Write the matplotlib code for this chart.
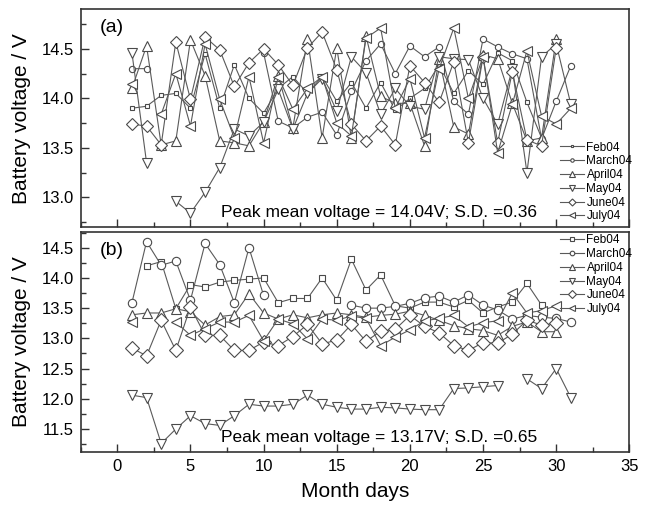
import numpy as np
from matplotlib import pyplot as plt
from matplotlib.ticker import MultipleLocator

nan = np.nan

months = ['Feb04', 'March04', 'April04', 'May04', 'June04', 'July04']
month_lengths = [29, 31, 30, 31, 30, 31]

# Panel (a) - battery voltage per day
feb_a = [13.90, 13.92, 14.03, 14.05, 13.90, 14.45, 13.90, 14.34, 14.00, 13.85,
         14.10, 14.22, 14.05, 14.22, 13.97, 14.16, 13.90, 14.16, 13.88, 14.00,
         14.10, 14.34, 14.05, 14.28, 14.14, 14.46, 14.38, 13.96, 13.60]
mar_a = [14.30, 14.30, nan, nan, nan, nan, nan, nan, nan, 14.46,
         13.77, 13.70, 13.81, 13.86, 13.63, 14.07, 14.38, 14.55, 14.25, 14.53,
         14.42, 14.52, 13.97, 13.84, 14.60, 14.52, 14.45, 14.40, 13.59, 13.97,
         14.33]
apr_a = [14.10, 14.53, 13.53, 13.57, 14.59, 14.23, 13.57, 13.55, 13.52, 13.76,
         14.23, 13.70, 14.60, 13.60, 14.51, 13.60, 14.63, 14.02, 13.95, 13.95,
         13.52, 14.40, 13.71, 13.64, 14.44, 14.40, 13.95, 13.57, 13.60, 14.60]
may_a = [14.46, 13.35, nan, 12.96, 12.84, 13.05, 13.30, 13.69, 13.62, 13.76,
         14.09, 13.69, 14.05, 14.20, 13.87, 14.42, 14.26, 13.84, 14.10, 13.92,
         13.89, 14.42, 14.40, 14.39, 14.00, 13.74, 14.30, 13.25, 14.42, 14.55,
         13.94]
jun_a = [13.74, 13.72, 13.53, 14.57, 13.99, 14.62, 14.49, 14.12, 14.36, 14.50,
         14.34, 14.13, 14.51, 14.67, 14.29, 13.74, 13.57, 13.72, 13.53, 14.33,
         14.16, 13.96, 14.37, 13.55, 14.42, 13.55, 14.27, 13.58, 13.52, 14.51]
jul_a = [14.14, nan, 13.84, 14.25, 13.72, 14.55, 13.99, 13.60, 14.22, 13.55,
         14.22, 13.89, 14.10, 14.22, 13.75, 13.62, 14.61, 14.71, 13.90, 14.20,
         13.60, 14.30, 14.71, 14.00, 14.42, 13.45, 13.94, 14.48, 13.82, 13.74,
         13.90]

# Panel (b)
feb_b = [nan, 14.20, 14.27, 13.49, 13.89, 13.85, 13.93, 13.96, 13.98, 14.00,
         13.59, 13.66, 13.66, 14.00, 13.63, 14.31, 13.80, 14.05, 13.54, 13.50,
         13.60, 13.60, 13.52, 13.63, 13.42, 13.52, 13.60, 13.91, 13.55]
mar_b = [13.59, 14.60, 14.21, 14.28, 13.63, 14.57, 14.22, 13.59, 14.50, 13.71,
         nan, nan, nan, nan, nan, 13.55, 13.50, 13.50, 13.53, 13.58,
         13.67, 13.70, 13.60, 13.72, 13.55, 13.47, 13.32, 13.38, 13.35, 13.33,
         13.27]
apr_b = [13.39, 13.42, 13.42, 13.49, 13.44, 13.22, 13.36, 13.39, 13.74, 13.42,
         13.32, 13.39, 13.34, 13.39, 13.42, 13.39, 13.35, 13.38, 13.40, 13.45,
         13.38, 13.30, 13.21, 13.16, 13.13, 13.05, 13.20, 13.27, 13.11, 13.11]
may_b = [12.06, 12.02, 11.26, 11.50, 11.72, 11.59, 11.56, 11.72, 11.91, 11.88,
         11.88, 11.91, 12.06, 11.91, 11.86, 11.83, 11.83, 11.86, 11.85, 11.83,
         11.82, 11.82, 12.17, 12.18, 12.20, 12.22, nan, 12.33, 12.17, 12.50,
         12.02]
jun_b = [12.84, 12.71, 13.30, 12.80, 13.52, 13.05, 13.05, 12.80, 12.80, 12.94,
         12.88, 13.03, 13.23, 12.91, 12.97, 13.23, 12.95, 13.12, 13.15, 13.38,
         13.20, 13.09, 12.88, 12.80, 12.93, 12.92, 13.07, 13.30, 13.22, 13.25]
jul_b = [13.27, nan, nan, 13.27, 13.05, 13.16, 13.27, 13.27, 13.38, 12.96,
         13.32, 13.24, 12.99, 13.32, 13.30, 13.37, 13.33, 12.88, 13.02, 13.14,
         13.29, 13.33, 13.38, 13.19, 13.26, 13.29, 13.75, 13.42, 13.46, 13.54,
         nan]

panel_a = [feb_a, mar_a, apr_a, may_a, jun_a, jul_a]
panel_b = [feb_b, mar_b, apr_b, may_b, jun_b, jul_b]

plt.rcParams['font.family'] = ['Liberation Sans', 'DejaVu Sans']

markers = ['s', 'o', '^', 'v', 'D', '<']
sizes_a = [3.5, 4.5, 7.5, 7.5, 6.5, 7.5]
sizes_b = [5.0, 6.0, 7.5, 7.5, 6.8, 7.5]
line_col = '#5a5a5a'

fig = plt.figure(figsize=(6.59, 5.07), dpi=100)
ax_a = fig.add_axes([0.1225, 0.5523, 0.8325, 0.4294])
ax_b = fig.add_axes([0.1225, 0.1085, 0.8325, 0.4339])


def draw_panel(ax, series, sizes, ylim, ytick_step, tag, note, legend_loc, legend_anchor):
    for i, values in enumerate(series):
        days = np.arange(1, month_lengths[i] + 1)
        ax.plot(days, values, color=line_col, linewidth=0.8, marker=markers[i],
                markersize=sizes[i], markerfacecolor='white', markeredgecolor='#4a4a4a',
                markeredgewidth=0.8, label=months[i])
    ax.set_xlim(-2.5, 35)
    ax.set_ylim(*ylim)
    ax.xaxis.set_major_locator(MultipleLocator(5))
    ax.xaxis.set_minor_locator(MultipleLocator(2.5))
    ax.yaxis.set_major_locator(MultipleLocator(ytick_step))
    ax.yaxis.set_minor_locator(MultipleLocator(ytick_step / 2))
    ax.tick_params(which='both', direction='in', labelsize=12, pad=5, color='#333333')
    ax.tick_params(which='major', length=6, width=1.0)
    ax.tick_params(which='minor', length=3.5, width=1.0)
    for s in ax.spines.values():
        s.set_linewidth(1.2)
        s.set_color('#333333')
    ax.text(0.035, 0.955, tag, transform=ax.transAxes, fontsize=14, va='top', ha='left')
    ax.text(0.255, 0.03, note, transform=ax.transAxes, fontsize=12.5, va='bottom', ha='left')
    ax.set_ylabel('Battery voltage / V', fontsize=15)
    ax.yaxis.set_label_coords(-0.09, 0.5)
    ax.legend(loc=legend_loc, bbox_to_anchor=legend_anchor, frameon=False, fontsize=8.5,
              markerscale=0.55, handlelength=2.0, handletextpad=0.2, labelspacing=0.15,
              borderaxespad=0.0, borderpad=0.2)


draw_panel(ax_a, panel_a, sizes_a, (12.7, 14.9), 0.5, '(a)',
           'Peak mean voltage = 14.04V; S.D. =0.36', 'lower right', (1.01, 0.01))
draw_panel(ax_b, panel_b, sizes_b, (11.12, 14.76), 0.5, '(b)',
           'Peak mean voltage = 13.17V; S.D. =0.65', 'upper right', (1.01, 1.0))

ax_a.tick_params(labelbottom=False)
ax_b.set_xlabel('Month days', fontsize=15)
ax_b.xaxis.set_label_coords(0.5, -0.135)

plt.savefig('out.png', dpi=100)
